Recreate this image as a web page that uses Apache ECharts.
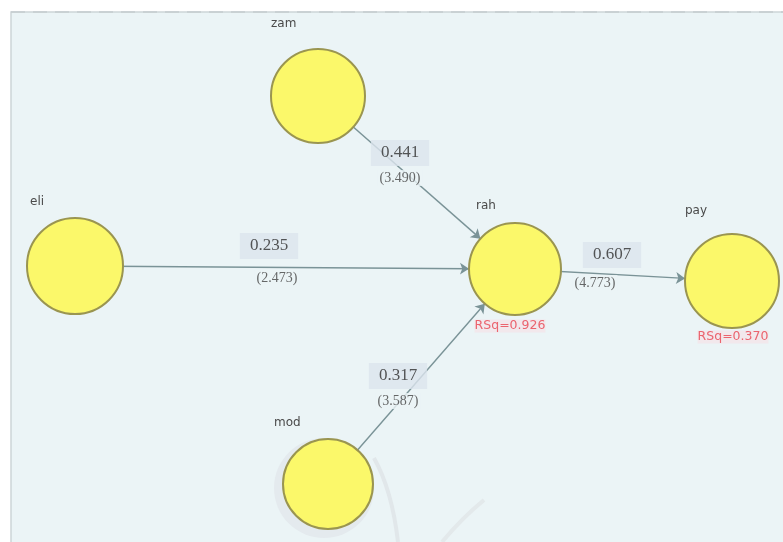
<!DOCTYPE html>
<html><head><meta charset="utf-8">
<script src="https://cdn.jsdelivr.net/npm/echarts@6/dist/echarts.min.js"></script>
<style>html,body{margin:0;padding:0;background:#fff}#c{width:783px;height:542px}</style>
</head><body><div id="c"></div>
<script>
// ---- data ----
const constructs = ['zam', 'eli', 'rah', 'pay', 'mod'];
const rSqNodes = ['rah', 'pay'];
const rSqValues = [0.926, 0.370];
const pathFrom = ['zam', 'eli', 'mod', 'rah'];
const pathTo = ['rah', 'rah', 'rah', 'pay'];
const pathCoef = ['0.441', '0.235', '0.317', '0.607'];
const pathT = ['3.490', '2.473', '3.587', '4.773'];

// ---- layout (diagram canvas units) ----
const layout = { zam: [318, 96], eli: [75, 266], rah: [515, 269], pay: [732, 281], mod: [328, 484] };
const nodeSize = { zam: 94, eli: 96, rah: 92, pay: 94, mod: 90 };
const nameOffset = { zam: [1, -24], eli: [4, -15], rah: [8, -16], pay: [1, -22], mod: [-8, -15] };
const coefAt = [[400, 153], [269, 246], [398, 376], [612, 255]];
const tAt = [[400, 178], [277, 278], [398, 401], [595, 283]];
const rSqAt = [[510, 326], [733, 337]];

const chart = echarts.init(document.getElementById('c'));
const option = {
  backgroundColor: '#ffffff',
  animation: false,
  grid: { left: 0, right: 0, top: 0, bottom: 0 },
  xAxis: { type: 'value', min: 0, max: 783, show: false },
  yAxis: { type: 'value', min: 0, max: 542, inverse: true, show: false },
  graphic: [
    { type: 'rect', z: -10, silent: true, shape: { x: 11, y: 12, width: 780, height: 540 },
      style: { fill: '#ebf4f6', stroke: '#cdd5d8', lineWidth: 1.5 } },
    { type: 'line', z: -9, silent: true, shape: { x1: 11, y1: 12, x2: 783, y2: 12 },
      style: { stroke: '#c5cdd0', lineWidth: 1.5, lineDash: [14, 8] } },
    { type: 'bezierCurve', z: -8, silent: true,
      shape: { x1: 374, y1: 458, cpx1: 392, cpy1: 490, x2: 398, y2: 542 },
      style: { stroke: '#e1e7ea', lineWidth: 4, fill: null } },
    { type: 'bezierCurve', z: -8, silent: true,
      shape: { x1: 484, y1: 500, cpx1: 462, cpy1: 518, x2: 442, y2: 542 },
      style: { stroke: '#e3e9eb', lineWidth: 4, fill: null } },
    { type: 'circle', z: -8, silent: true, shape: { cx: 324, cy: 488, r: 50 },
      style: { fill: '#e4eaee' } }
  ],
  series: [
    {
      type: 'graph',
      coordinateSystem: 'cartesian2d',
      symbol: 'circle',
      edgeSymbol: ['none', 'arrow'],
      edgeSymbolSize: [0, 9],
      itemStyle: { color: '#fbf86a', borderColor: '#9a9550', borderWidth: 2 },
      lineStyle: { color: '#7a9397', width: 1.4, opacity: 1, curveness: 0 },
      label: { show: true, formatter: '{b}', fontFamily: 'DejaVu Sans', fontSize: 12, color: '#4a4a4a',
        align: 'left', verticalAlign: 'middle' },
      emphasis: { disabled: true },
      z: 2,
      data: constructs.map(n => ({ name: n, value: layout[n], symbolSize: nodeSize[n],
        label: { position: nameOffset[n] } })),
      links: pathFrom.map((s, i) => ({ source: s, target: pathTo[i] }))
    },
    {
      type: 'scatter', z: 5, silent: true, symbolSize: 1, itemStyle: { color: 'transparent' },
      label: { show: true, position: 'inside', formatter: p => p.data.txt,
        fontFamily: 'Liberation Serif', fontSize: 17, color: '#2e2e2e',
        backgroundColor: '#dce5ed', padding: [5, 10, 4, 10] },
      data: pathCoef.map((c, i) => ({ value: coefAt[i], txt: c }))
    },
    {
      type: 'scatter', z: 5, silent: true, symbolSize: 1, itemStyle: { color: 'transparent' },
      label: { show: true, position: 'inside', formatter: p => p.data.txt,
        fontFamily: 'Liberation Serif', fontSize: 14, color: '#444',
        backgroundColor: '#ebf4f6', padding: [1, 2] },
      data: pathT.map((t, i) => ({ value: tAt[i], txt: '(' + t + ')' }))
    },
    {
      type: 'scatter', z: 5, silent: true, symbolSize: 1, itemStyle: { color: 'transparent' },
      label: { show: true, position: 'inside', formatter: p => p.data.txt,
        fontFamily: 'DejaVu Sans', fontSize: 12.5, color: '#e8424f', backgroundColor: 'rgba(248,220,226,0.6)' },
      data: rSqValues.map((v, i) => ({ value: rSqAt[i], txt: 'RSq=' + v.toFixed(3) }))
    }
  ]
};
chart.setOption(option);
</script></body></html>
